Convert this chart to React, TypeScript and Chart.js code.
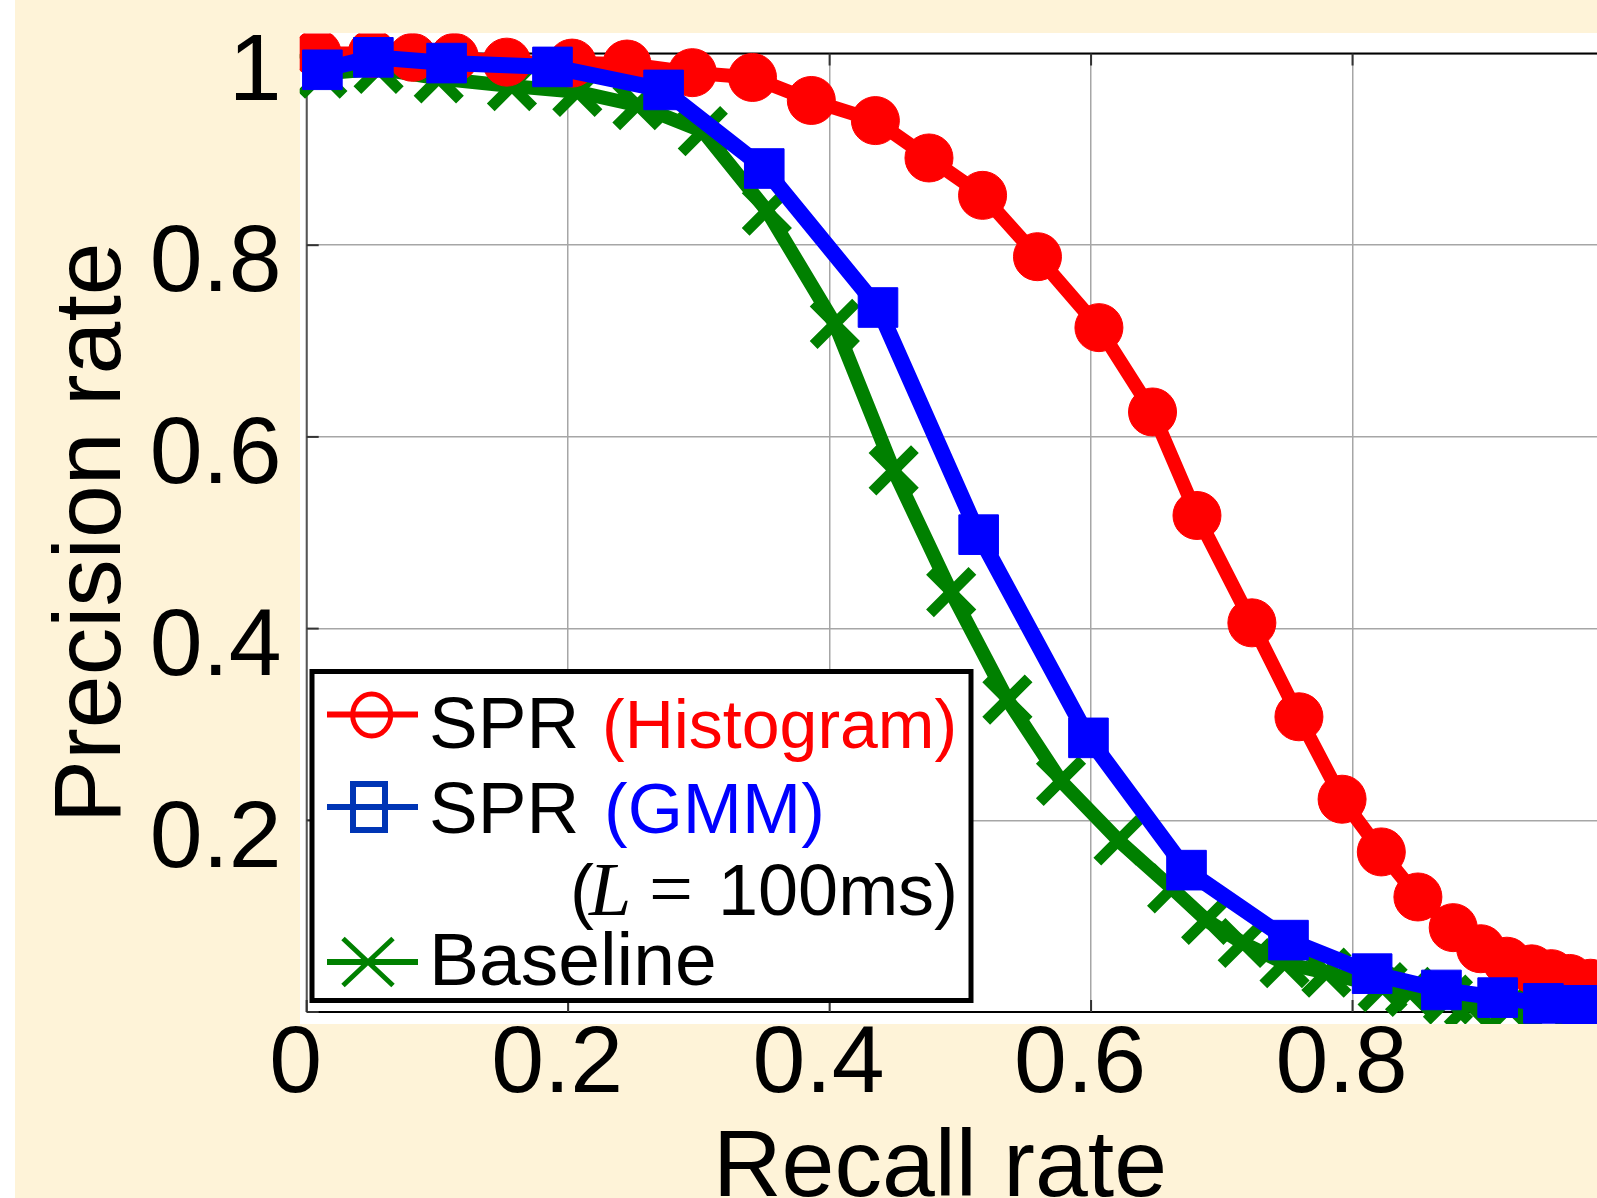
import React, { useEffect, useRef } from "react";
import { Chart, registerables } from "chart.js";

Chart.register(...registerables);

// ---------------- data ----------------
const histRecall = [0.008, 0.05, 0.081, 0.113, 0.153, 0.203, 0.245, 0.295, 0.341, 0.386, 0.435, 0.476, 0.517, 0.559, 0.606, 0.647, 0.681, 0.723, 0.759, 0.792, 0.822, 0.85, 0.877, 0.898, 0.918, 0.937, 0.952, 0.966, 0.982, 1.0];
const histPrecision = [1.0, 1.0, 0.996, 0.996, 0.991, 0.99, 0.989, 0.98, 0.975, 0.951, 0.93, 0.891, 0.852, 0.788, 0.714, 0.626, 0.518, 0.406, 0.308, 0.222, 0.167, 0.12, 0.088, 0.066, 0.053, 0.045, 0.04, 0.035, 0.03, 0.025];

const gmmRecall = [0.012, 0.051, 0.107, 0.188, 0.273, 0.35, 0.437, 0.514, 0.598, 0.673, 0.751, 0.815, 0.868, 0.911, 0.946, 0.976, 1.0];
const gmmPrecision = [0.983, 0.996, 0.99, 0.986, 0.962, 0.88, 0.735, 0.498, 0.286, 0.148, 0.075, 0.04, 0.023, 0.015, 0.009, 0.007, 0.005];

const baseRecall = [0.012, 0.055, 0.101, 0.157, 0.207, 0.253, 0.303, 0.352, 0.404, 0.449, 0.493, 0.536, 0.577, 0.621, 0.662, 0.688, 0.716, 0.748, 0.78, 0.823, 0.844, 0.873, 0.889, 0.92, 0.95, 0.98];
const basePrecision = [0.979, 0.984, 0.974, 0.966, 0.96, 0.946, 0.919, 0.836, 0.718, 0.565, 0.438, 0.326, 0.241, 0.179, 0.129, 0.096, 0.072, 0.051, 0.041, 0.026, 0.021, 0.013, 0.008, 0.005, 0.003, 0.002];

const xTickValues = [0, 0.2, 0.4, 0.6, 0.8, 1];
const xTickLabels = ["0", "0.2", "0.4", "0.6", "0.8", ""];
const yTickValues = [0, 0.2, 0.4, 0.6, 0.8, 1];
const yTickLabels = ["", "0.2", "0.4", "0.6", "0.8", "1"];

const xTitle = "Recall rate";
const yTitle = "Precision rate";
const legendMethod = "SPR";
const legendHist = "(Histogram)";
const legendGmm = "(GMM)";
const legendParamVar = "L";
const legendParamValue = "100ms)";
const legendBaseline = "Baseline";

// ---------------- style ----------------
const SANS = '"Liberation Sans", Arial, sans-serif';
const SERIF = '"Liberation Serif", "Times New Roman", serif';
const BEIGE = "#FEF3D8";
const RED = "#FF0000";
const BLUE = "#0000FF";
const GREEN = "#008000";
const OFFX = 15; // container left on page
const CW = 1640;
const CH = 1198;

const toPts = (xs: number[], ys: number[]) => xs.map((x, i) => ({ x, y: ys[i] }));

const clipBox = { left: 7, top: 20, right: 100, bottom: 12 };

const panelPlugin = {
  id: "panel",
  beforeDraw(chart: any) {
    const c = chart.ctx;
    c.save();
    c.fillStyle = "#ffffff";
    c.fillRect(300 - OFFX, 33, CW, 1024 - 33);
    c.restore();
  },
};

const framePlugin = {
  id: "frame",
  beforeDatasetsDraw(chart: any) {
    const c = chart.ctx;
    const a = chart.chartArea;
    const xs = chart.scales.x;
    const ys = chart.scales.y;
    c.save();
    c.lineCap = "butt";
    c.strokeStyle = "#000";
    c.lineWidth = 2;
    c.beginPath();
    c.moveTo(a.left, a.top);
    c.lineTo(a.right, a.top);
    c.stroke();
    c.beginPath();
    c.moveTo(a.left, a.bottom);
    c.lineTo(a.right, a.bottom);
    c.stroke();
    c.strokeStyle = "#555";
    c.beginPath();
    c.moveTo(a.left, a.top);
    c.lineTo(a.left, a.bottom);
    c.stroke();
    c.strokeStyle = "#333";
    c.lineWidth = 2;
    yTickValues.forEach((v) => {
      const py = ys.getPixelForValue(v);
      c.beginPath();
      c.moveTo(a.left, py);
      c.lineTo(a.left + 12, py);
      c.stroke();
    });
    xTickValues.forEach((v) => {
      const px = xs.getPixelForValue(v);
      c.beginPath();
      c.moveTo(px, a.bottom);
      c.lineTo(px, a.bottom - 12);
      c.moveTo(px, a.top);
      c.lineTo(px, a.top + 12);
      c.stroke();
    });
    c.restore();
  },
};

const overlayPlugin = {
  id: "overlay",
  afterDraw(chart: any) {
    const c = chart.ctx;
    c.save();
    // x axis title
    c.fillStyle = "#000";
    c.font = `95px ${SANS}`;
    c.textAlign = "center";
    c.textBaseline = "alphabetic";
    c.fillText(xTitle, 940 - OFFX, 1196);

    // legend box
    const bx = 297, by = 671.5, bw = 659, bh = 329;
    c.fillStyle = "#fff";
    c.fillRect(bx, by, bw, bh);
    c.lineWidth = 5;
    c.strokeStyle = "#000";
    c.strokeRect(bx, by, bw, bh);

    const lx0 = 312, lx1 = 403, tx = 414;
    c.lineCap = "butt";
    // row 1 : histogram
    c.strokeStyle = RED;
    c.lineWidth = 6;
    c.beginPath();
    c.moveTo(lx0, 714.5);
    c.lineTo(lx1, 714.5);
    c.stroke();
    c.lineWidth = 5;
    c.beginPath();
    c.ellipse(356.7, 715, 19, 21, 0, 0, Math.PI * 2);
    c.stroke();
    // row 2 : gmm
    c.strokeStyle = "#0035B5";
    c.lineWidth = 6;
    c.beginPath();
    c.moveTo(lx0, 807);
    c.lineTo(lx1, 807);
    c.stroke();
    c.strokeRect(338, 784, 32, 46);
    // row 4 : baseline
    c.strokeStyle = GREEN;
    c.lineWidth = 6;
    c.beginPath();
    c.moveTo(lx0, 962);
    c.lineTo(lx1, 962);
    c.stroke();
    c.lineWidth = 5;
    c.beginPath();
    c.moveTo(353 - 25, 962 - 23.5);
    c.lineTo(353 + 25, 962 + 23.5);
    c.moveTo(353 - 25, 962 + 23.5);
    c.lineTo(353 + 25, 962 - 23.5);
    c.stroke();

    // texts
    c.textAlign = "left";
    c.textBaseline = "alphabetic";
    c.font = `73px ${SANS}`;
    c.fillStyle = "#000";
    c.fillText(legendMethod, tx, 748);
    c.fillText(legendMethod, tx, 833);
    c.font = `68px ${SANS}`;
    c.fillStyle = RED;
    c.fillText(legendHist, 587, 748);
    c.font = `71px ${SANS}`;
    c.fillStyle = BLUE;
    c.fillText(legendGmm, 589, 833);
    // row 3 (L = 100ms)
    c.fillStyle = "#000";
    c.font = `72px ${SANS}`;
    c.fillText("(", 555, 915);
    c.font = `italic 76px ${SERIF}`;
    c.fillText(legendParamVar, 574, 915);
    c.font = `78px ${SERIF}`;
    c.fillText("=", 634, 915);
    c.font = `72px ${SANS}`;
    c.fillText(legendParamValue, 703, 915);
    // row 4
    c.font = `75px ${SANS}`;
    c.fillText(legendBaseline, tx, 985);
    c.restore();
  },
};

export default function App() {
  const ref = useRef<HTMLCanvasElement | null>(null);
  useEffect(() => {
    if (!ref.current) return;
    const tickFont = { family: SANS, size: 95, lineHeight: 1.2 };
    const chart = new Chart(ref.current, {
      type: "line",
      data: {
        datasets: [
          {
            label: "SPR (GMM)",
            data: toPts(gmmRecall, gmmPrecision),
            borderColor: BLUE,
            backgroundColor: BLUE,
            borderWidth: 16,
            pointStyle: "rect",
            pointRadius: 28,
            pointBorderWidth: 1,
            pointBackgroundColor: BLUE,
            pointBorderColor: BLUE,
            order: 1,
            clip: clipBox,
          },
          {
            label: "SPR (Histogram)",
            data: toPts(histRecall, histPrecision),
            borderColor: RED,
            backgroundColor: RED,
            borderWidth: 14,
            pointStyle: "circle",
            pointRadius: 24,
            pointBorderWidth: 1,
            pointBackgroundColor: RED,
            pointBorderColor: RED,
            order: 2,
            clip: clipBox,
          },
          {
            label: "Baseline",
            data: toPts(baseRecall, basePrecision),
            borderColor: GREEN,
            backgroundColor: GREEN,
            borderWidth: 14,
            pointStyle: "crossRot",
            pointRadius: 30,
            pointBorderWidth: 11,
            pointBackgroundColor: GREEN,
            pointBorderColor: GREEN,
            order: 3,
            clip: clipBox,
          },
        ] as any,
      },
      options: {
        animation: false,
        responsive: false,
        events: [],
        layout: { padding: { left: 0, top: 52.7, right: 40.5, bottom: 0 } },
        elements: { line: { tension: 0, borderJoinStyle: "round", borderCapStyle: "butt" } },
        plugins: { legend: { display: false }, tooltip: { enabled: false } },
        scales: {
          x: {
            type: "linear",
            min: 0,
            max: 1,
            afterBuildTicks: (s: any) => {
              s.ticks = xTickValues.map((v) => ({ value: v }));
            },
            afterFit: (s: any) => {
              s.height = CH - 1012;
            },
            grid: { color: "#a6a6a6", lineWidth: 1.5, drawTicks: false },
            border: { display: false },
            ticks: {
              font: tickFont,
              color: "#000",
              padding: -3,
              labelOffset: -11,
              maxRotation: 0,
              autoSkip: false,
              callback: (v: any) => xTickLabels[xTickValues.indexOf(Number(v))] ?? "",
            },
          },
          y: {
            type: "linear",
            min: 0,
            max: 1,
            afterBuildTicks: (s: any) => {
              s.ticks = yTickValues.map((v) => ({ value: v }));
            },
            afterFit: (s: any) => {
              s.width = 306.7 - OFFX;
            },
            grid: { color: "#a6a6a6", lineWidth: 1.5, drawTicks: false },
            border: { display: false },
            title: {
              display: true,
              text: yTitle,
              color: "#000",
              font: { family: SANS, size: 95, lineHeight: 1.2 },
              padding: { top: 22, bottom: 0 },
            },
            ticks: {
              font: { family: SANS, size: 95, lineHeight: 0.6 },
              color: "#000",
              padding: 25,
              labelOffset: 20,
              autoSkip: false,
              callback: (v: any) => yTickLabels[yTickValues.indexOf(Number(v))] ?? "",
            },
          },
        },
      } as any,
      plugins: [panelPlugin, framePlugin, overlayPlugin],
    });
    return () => chart.destroy();
  }, []);

  return (
    <div
      style={{
        position: "fixed",
        left: OFFX,
        top: 0,
        width: 1597 - OFFX,
        height: CH,
        overflow: "hidden",
        background: BEIGE,
      }}
    >
      <canvas
        ref={ref}
        width={CW}
        height={CH}
        style={{ position: "absolute", left: 0, top: 0, width: CW, height: CH }}
      />
    </div>
  );
}
